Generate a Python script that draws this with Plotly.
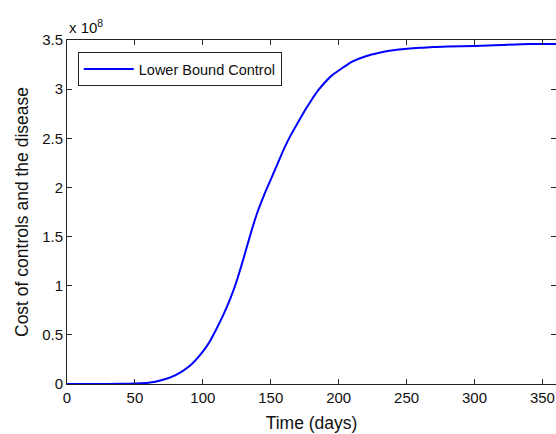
import plotly.graph_objects as go

# Time (days)
time_days = [0, 20, 40, 50, 60, 70, 80, 90, 100, 105, 110, 115, 120, 125, 130, 135,
             140, 145, 150, 155, 160, 165, 170, 175, 180, 185, 190, 195, 200, 210,
             220, 230, 240, 250, 260, 270, 280, 300, 320, 340, 360]
# Cost of controls and the disease (x 1e8)
cost_e8 = [0.0, 0.0, 0.002, 0.005, 0.012, 0.04, 0.09, 0.18, 0.33, 0.43, 0.56, 0.70,
           0.86, 1.05, 1.28, 1.52, 1.74, 1.92, 2.08, 2.24, 2.40, 2.54, 2.66, 2.78,
           2.89, 2.99, 3.07, 3.14, 3.19, 3.28, 3.335, 3.37, 3.395, 3.41, 3.42, 3.43,
           3.435, 3.44, 3.45, 3.46, 3.46]
cost = [v * 1e8 for v in cost_e8]

x_ticks = [0, 50, 100, 150, 200, 250, 300, 350]
y_ticks_e8 = [0, 0.5, 1, 1.5, 2, 2.5, 3, 3.5]
y_tick_labels = ["0", "0.5", "1", "1.5", "2", "2.5", "3", "3.5"]

FONT = "Liberation Sans, Arial, Helvetica, sans-serif"

fig = go.Figure()
fig.add_trace(go.Scatter(x=time_days, y=cost, mode="lines",
                         name="Lower Bound Control",
                         line=dict(color="#0000ff", width=2, shape="spline", smoothing=0.6)))

axis_common = dict(showgrid=False, zeroline=False, showline=True, linecolor="#222222",
                   linewidth=1, mirror="ticks", ticks="inside", ticklen=5,
                   tickcolor="#222222", tickfont=dict(size=15, family=FONT, color="#111111"))

fig.update_layout(
    width=556, height=434,
    margin=dict(l=67, r=0, t=40, b=50),
    paper_bgcolor="white", plot_bgcolor="white",
    showlegend=True,
    legend=dict(x=0.022, y=0.965, xanchor="left", yanchor="top", itemwidth=50,
                bordercolor="#222222", borderwidth=1, bgcolor="white",
                font=dict(size=14.5, family=FONT, color="#111111")),
    xaxis=dict(range=[0, 360], tickvals=x_ticks,
               title=dict(text="Time (days)", font=dict(size=17.5, family=FONT, color="#111111"),
                          standoff=11),
               **axis_common),
    yaxis=dict(range=[0, 3.5e8], tickvals=[v * 1e8 for v in y_ticks_e8], ticktext=y_tick_labels,
               title=dict(text="Cost of controls and the disease",
                          font=dict(size=17.5, family=FONT, color="#111111"), standoff=9),
               **axis_common),
)
fig.add_annotation(xref="paper", yref="paper", x=0, y=1, xanchor="left", yanchor="bottom",
                   xshift=0, yshift=2, showarrow=False,
                   text="x 10<sup>8</sup>", font=dict(size=15, family=FONT, color="#111111"))

fig.write_html("out.html", config={"displayModeBar": False},
               post_script="document.body.style.margin='0';")
